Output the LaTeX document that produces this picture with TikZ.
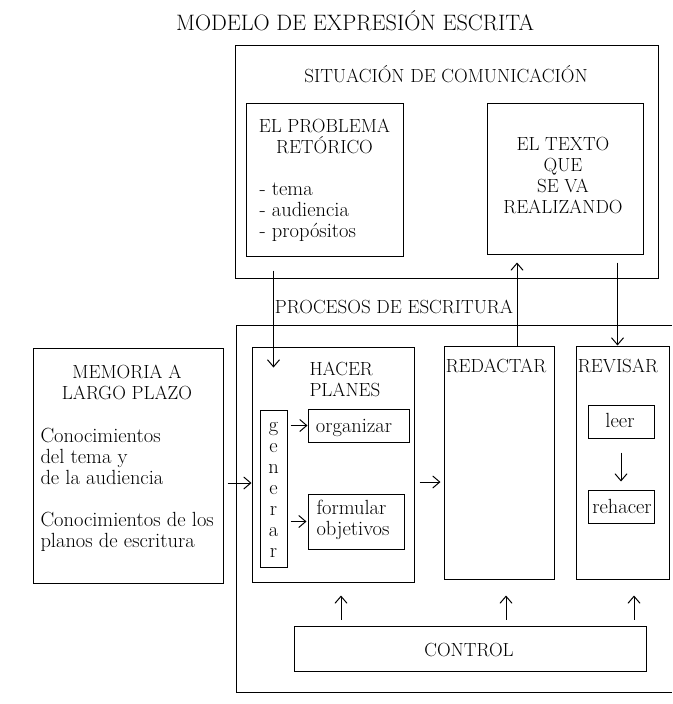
\documentclass[tikz,border=0pt]{standalone}
\usepackage{tikz}
\usetikzlibrary{arrows.meta,calc,positioning}

\begin{document}
\begin{tikzpicture}[x=1pt,y=-1pt,line width=1pt,
	bx/.style={draw,inner sep=0pt},
	up/.style={font=\fontsize{19}{21}\selectfont,inner sep=0pt,align=center},
	lo/.style={font=\fontsize{20.5}{21}\selectfont,inner sep=0pt,align=left},
	arr/.style={-{Straight Barb[length=7pt,width=12pt]}}]
	\useasboundingbox (0,0) rectangle (672,704);
	\node[up,anchor=base,font=\fontsize{22.3}{24}\selectfont] (title) at (355,30) {MODELO DE EXPRESIÓN ESCRITA};
	\node[bx,minimum width=423pt,minimum height=233pt] (sit) at (446.5,161.5) {};
	\node[up,anchor=base] (sitlab) at (446,82) {SITUACIÓN DE COMUNICACIÓN};
	\node[bx,minimum width=157pt,minimum height=153pt] (prob) at (324.5,179.5) {};
	\node[up] (problab) at (324.5,136.5) {EL PROBLEMA\\RETÓRICO};
	\node[lo,anchor=west] (problist) at (259,212.5) {- tema\\- audiencia\\- propósitos};
	\node[bx,minimum width=156pt,minimum height=151pt] (texto) at (565,178.5) {};
	\node[up] (textolab) at (563,175.5) {EL TEXTO\\QUE\\SE VA\\REALIZANDO};
	\node[up,anchor=base] (proclab) at (394,313) {PROCESOS DE ESCRITURA};
	\draw (672,325) -- (236,325) -- (236,692) -- (672,692);
	\node[bx,minimum width=190pt,minimum height=235pt] (mem) at (128,465.5) {};
	\node[up] (memlab) at (127,382.5) {MEMORIA A\\LARGO PLAZO};
	\node[lo,anchor=west] (memtema) at (40,456) {Conocimientos\\del tema y\\de la audiencia};
	\node[lo,anchor=west] (memplan) at (40,532) {Conocimientos de los\\planos de escritura};
	\node[bx,minimum width=162pt,minimum height=235pt] (plan) at (333,464.5) {};
	\node[up,anchor=west,align=left] (planlab) at (309,379.5) {HACER\\PLANES};
	\node[bx,minimum width=27pt,minimum height=157pt] (gen) at (273.5,488.5) {};
	\node[lo,align=center] (genlab) at (273.5,490) {g\\e\\n\\e\\r\\a\\r};
	\node[bx,minimum width=101pt,minimum height=33pt] (org) at (358.5,425.5) {};
	\node[lo,anchor=base] (orglab) at (354,432) {organizar};
	\node[bx,minimum width=96pt,minimum height=55pt] (form) at (356,521.5) {};
	\node[lo,anchor=west] (formlab) at (316,520) {formular\\objetivos};
	\node[bx,minimum width=110pt,minimum height=233pt] (red) at (499,462.5) {};
	\node[up,anchor=base] (redlab) at (496,372) {REDACTAR};
	\node[bx,minimum width=93pt,minimum height=233pt] (rev) at (622.5,462.5) {};
	\node[up,anchor=base] (revlab) at (618,372) {REVISAR};
	\node[bx,minimum width=66pt,minimum height=33pt] (leer) at (621,421.5) {};
	\node[lo,anchor=base] (leerlab) at (620,427) {leer};
	\node[bx,minimum width=66pt,minimum height=33pt] (reh) at (621,506.5) {};
	\node[lo,anchor=base] (rehlab) at (622,513) {rehacer};
	\node[bx,minimum width=352pt,minimum height=45pt] (ctrl) at (470,648.5) {};
	\node[up,anchor=base] (ctrllab) at (469,656) {CONTROL};
	\draw[arr,shorten <=14pt] (gen.north |- prob.south) -- ($(gen.north |- plan.north)+(0pt,-21pt)$);
	\draw[arr,shorten >=8pt] ($(red.north)+(18pt,0pt)$) -- ($(red.north |- texto.south)+(18pt,0pt)$);
	\draw[arr,shorten <=8pt] ($(rev.north |- texto.south)+(-5pt,0pt)$) -- ($(rev.north)+(-5pt,0pt)$);
	\draw[arr,shorten <=4pt] ($(mem.east)+(0pt,-17.5pt)$) -- ($(plan.west)+(0pt,-18.5pt)$);
	\draw[arr,shorten <=5pt,shorten >=3pt] ($(plan.east)+(0pt,-17.5pt)$) -- ($(red.west)+(0pt,-19.5pt)$);
	\draw[arr,shorten <=3pt] (gen.east |- org.west) -- (org.west);
	\draw[arr,shorten <=3pt,shorten >=1pt] (gen.east |- form.west) -- (form.west);
	\draw[arr,shorten <=14pt,shorten >=8pt] (leer.south) -- (reh.north);
	\foreach \b/\dx/\s in {plan/8/13,red/7/16,rev/11.5/16}
		\draw[arr,shorten <=6pt,shorten >=\s pt] ($(\b.south |- ctrl.north)+(\dx pt,0pt)$) -- ($(\b.south)+(\dx pt,0pt)$);
\end{tikzpicture}
\end{document}
